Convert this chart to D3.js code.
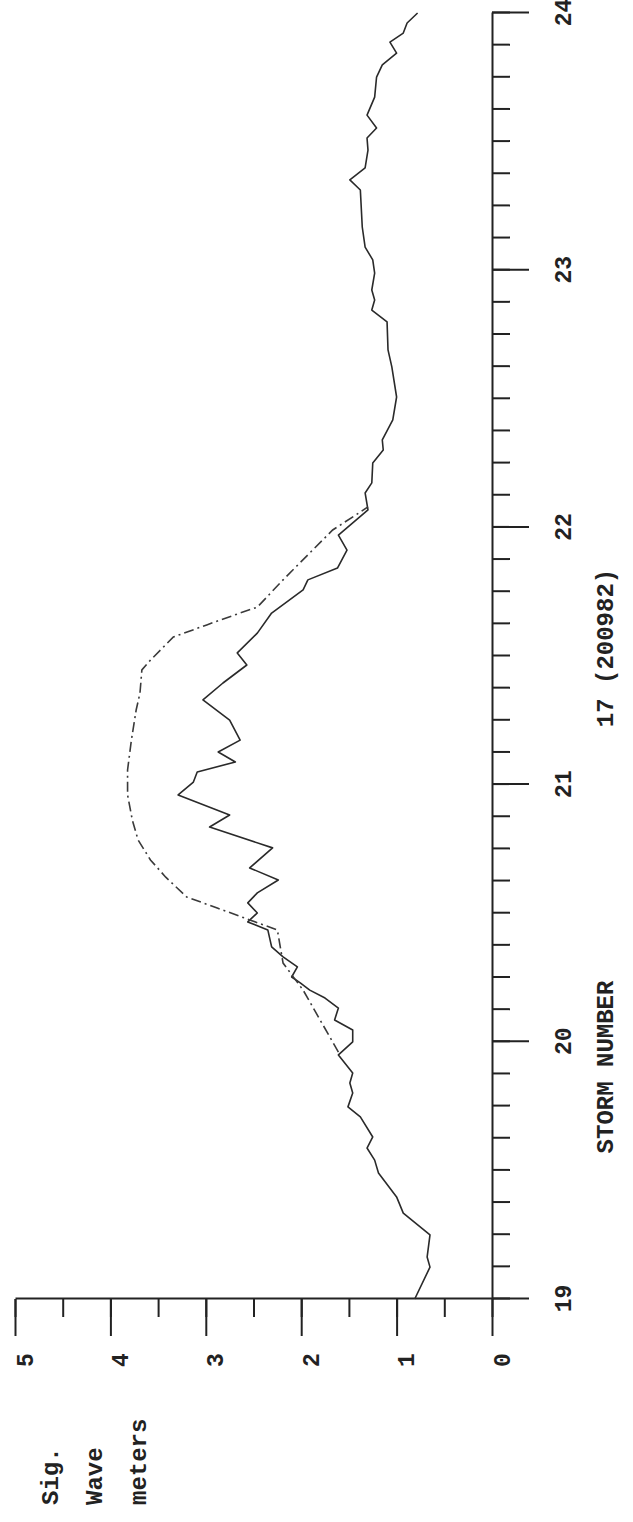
<!DOCTYPE html>
<html>
<head>
<meta charset="utf-8">
<script src="https://cdn.jsdelivr.net/npm/d3@7"></script>
<style>
  body { margin: 0; background: #fff; }
  svg { display: block; }
  text { font-family: "Liberation Mono", "DejaVu Sans Mono", monospace; font-weight: bold; fill: #222; }
</style>
</head>
<body>
<svg id="chart" width="633" height="1522"></svg>
<script>
// measured wave height (solid)
const measuredDay = [19.000, 19.124, 19.163, 19.249, 19.334, 19.397, 19.490, 19.540, 19.587, 19.630,
  19.708, 19.747, 19.801, 19.840, 19.879, 19.949, 20.000, 20.046, 20.085, 20.131,
  20.170, 20.201, 20.229, 20.252, 20.291, 20.330, 20.369, 20.435, 20.466, 20.501,
  20.540, 20.579, 20.629, 20.676, 20.754, 20.835, 20.882, 20.960, 21.010, 21.049,
  21.088, 21.127, 21.173, 21.251, 21.329, 21.395, 21.465, 21.512, 21.589, 21.667,
  21.757, 21.796, 21.842, 21.912, 21.970, 22.068, 22.134, 22.173, 22.250, 22.301,
  22.340, 22.418, 22.507, 22.624, 22.690, 22.799, 22.845, 22.884, 22.923, 22.989,
  23.040, 23.090, 23.168, 23.312, 23.351, 23.383, 23.398, 23.467, 23.514, 23.553,
  23.603, 23.673, 23.751, 23.798, 23.844, 23.887, 23.922, 23.961, 24.000]
const measuredHs = [0.81, 0.65, 0.68, 0.65, 0.93, 1.00, 1.19, 1.23, 1.31, 1.25,
  1.38, 1.51, 1.46, 1.49, 1.46, 1.61, 1.46, 1.46, 1.65, 1.61,
  1.75, 1.91, 2.01, 2.10, 2.04, 2.19, 2.31, 2.35, 2.56, 2.46,
  2.56, 2.46, 2.24, 2.54, 2.30, 2.96, 2.75, 3.29, 3.13, 3.09,
  2.69, 2.87, 2.64, 2.75, 3.03, 2.82, 2.57, 2.67, 2.46, 2.31,
  1.98, 1.93, 1.62, 1.52, 1.61, 1.30, 1.33, 1.26, 1.25, 1.14,
  1.15, 1.04, 1.00, 1.05, 1.09, 1.10, 1.26, 1.23, 1.26, 1.23,
  1.25, 1.33, 1.36, 1.38, 1.49, 1.38, 1.33, 1.30, 1.31, 1.21,
  1.31, 1.23, 1.21, 1.15, 1.00, 1.07, 0.93, 0.89, 0.78]

// hindcast (dash-dot)
const hindcastDay = [19.960, 20.201, 20.306, 20.435, 20.474, 20.520, 20.563, 20.640, 20.707, 20.785,
  20.862, 20.960, 21.057, 21.173, 21.290, 21.356, 21.446, 21.484, 21.574, 21.621,
  21.667, 21.690, 21.796, 21.912, 21.990, 22.060, 22.080]
const hindcastHs = [1.61, 1.98, 2.19, 2.25, 2.54, 2.88, 3.20, 3.42, 3.58, 3.71,
  3.77, 3.82, 3.82, 3.78, 3.73, 3.69, 3.67, 3.58, 3.34, 2.99,
  2.64, 2.46, 2.19, 1.88, 1.67, 1.38, 1.30]

const dayTicks = [19, 20, 21, 22, 23, 24]
const dayMinor = d3.range(19, 24.0001, 1 / 8)
const hsTicks = [0, 1, 2, 3, 4, 5]
const hsMinor = d3.range(0, 5.0001, 0.5)

const svg = d3.select('#chart')

// the whole plot is drawn as an ordinary chart and turned on its side
const g = svg.append('g').attr('transform', 'translate(0,1522) rotate(-90)')

const x = d3.scaleLinear().domain([19, 24]).range([223, 1509])
const y = d3.scaleLinear().domain([0, 5]).range([492, 15])

// time axis, minor then major
g.append('g')
  .attr('transform', `translate(0,${y(0)})`)
  .call(d3.axisBottom(x).tickValues(dayMinor).tickSize(18).tickSizeOuter(0).tickFormat(''))
  .call(a => a.selectAll('line, path').attr('stroke', '#222').attr('stroke-width', 2))

const dayAxis = g.append('g')
  .attr('transform', `translate(0,${y(0)})`)
  .call(d3.axisBottom(x).tickValues(dayTicks).tickSize(37).tickSizeOuter(0).tickFormat(d3.format('d')))
dayAxis.select('.domain').remove()
dayAxis.selectAll('line').attr('stroke', '#222').attr('stroke-width', 2)
dayAxis.selectAll('text')
  .attr('y', 71)
  .attr('dy', '0.35em')
  .style('font-size', '23px')

// wave height axis
g.append('g')
  .attr('transform', `translate(${x(19)},0)`)
  .call(d3.axisLeft(y).tickValues(hsMinor).tickSize(18).tickSizeOuter(0).tickFormat(''))
  .call(a => a.selectAll('line, path').attr('stroke', '#222').attr('stroke-width', 2))

const hsAxis = g.append('g')
  .attr('transform', `translate(${x(19)},0)`)
  .call(d3.axisLeft(y).tickValues(hsTicks).tickSize(37).tickSizeOuter(0).tickFormat(d3.format('d')))
hsAxis.select('.domain').remove()
hsAxis.selectAll('line').attr('stroke', '#222').attr('stroke-width', 2)
hsAxis.selectAll('text')
  .attr('x', -61)
  .attr('dy', '0.35em')
  .attr('text-anchor', 'middle')
  .attr('transform', 'translate(0,9)')
  .style('font-size', '23px')

// lines
const line = d3.line().x(d => x(d[0])).y(d => y(d[1]))

g.append('path')
  .datum(d3.zip(measuredDay, measuredHs))
  .attr('fill', 'none')
  .attr('stroke', '#2a2a2a')
  .attr('stroke-width', 1.6)
  .attr('stroke-linejoin', 'round')
  .attr('d', line)

g.append('path')
  .datum(d3.zip(hindcastDay, hindcastHs))
  .attr('fill', 'none')
  .attr('stroke', '#3a3a3a')
  .attr('stroke-width', 1.6)
  .attr('stroke-dasharray', '10,4,2,4')
  .attr('d', line)

// titles
g.append('text')
  .attr('x', 455).attr('y', 605).attr('dy', '0.35em')
  .attr('text-anchor', 'middle')
  .style('font-size', '24px')
  .text('STORM NUMBER')

g.append('text')
  .attr('x', 874).attr('y', 605).attr('dy', '0.35em')
  .attr('text-anchor', 'middle')
  .style('font-size', '24px')
  .text('17 (200982)')

const unitLines = ['Sig.', 'Wave', 'meters']
g.selectAll('.unit')
  .data(unitLines)
  .enter()
  .append('text')
  .attr('class', 'unit')
  .attr('x', 17)
  .attr('y', (d, i) => 50 + i * 44)
  .attr('dy', '0.35em')
  .style('font-size', '24px')
  .text(d => d)
</script>
</body>
</html>
